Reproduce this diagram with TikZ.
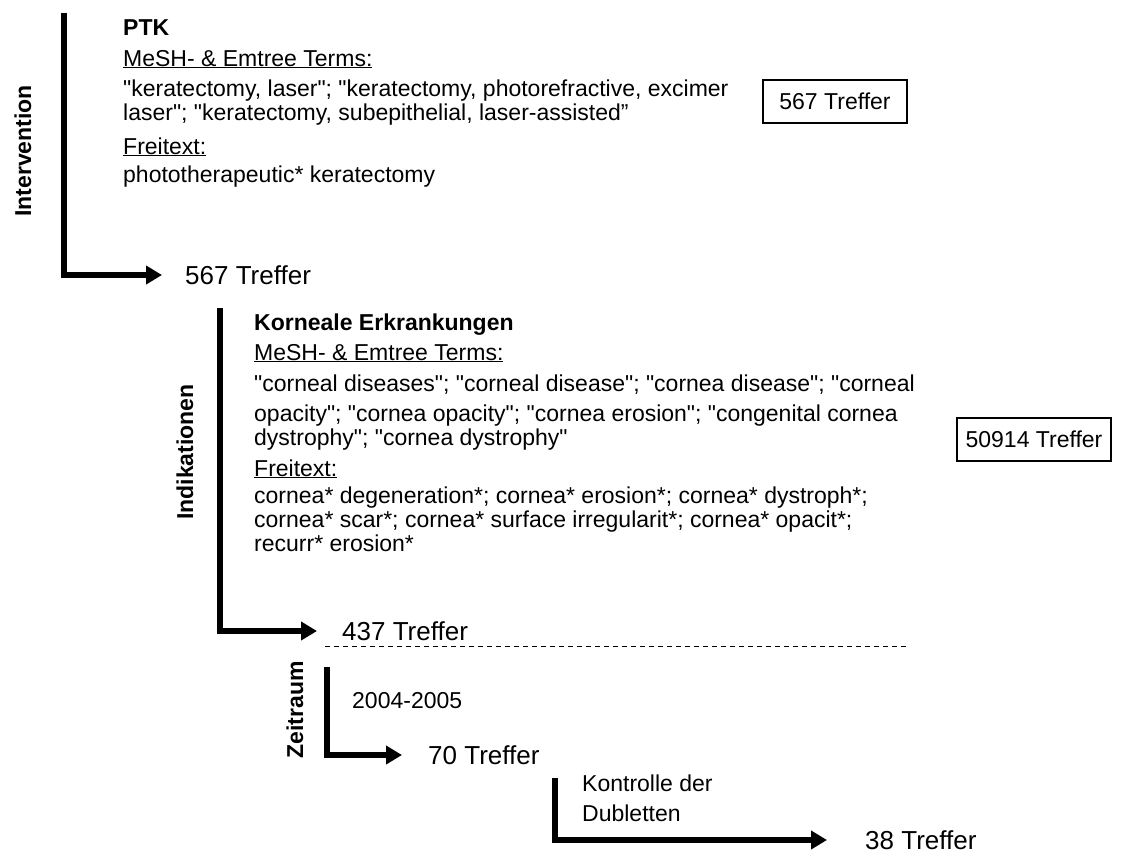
\documentclass[tikz,border=0pt]{standalone}
\usepackage{fontspec}
\setmainfont{Liberation Sans}[Ligatures=TeXOff]
\usetikzlibrary{arrows.meta}
\begin{document}
\begin{tikzpicture}[x=1pt,y=-1pt,
  txt/.style={anchor=base west, inner sep=0, font=\fontsize{23}{27}\selectfont},
  head/.style={txt, font=\bfseries\fontsize{23}{27}\selectfont},
  res/.style={anchor=west, inner sep=0, font=\fontsize{26}{30}\selectfont},
  vlab/.style={rotate=90, inner sep=0, font=\bfseries\fontsize{23}{27}\selectfont},
  hitbox/.style={draw, line width=1.2pt, inner sep=0, minimum height=43pt, font=\fontsize{23}{27}\selectfont},
  flow/.style={line width=6pt, line join=miter, -{Triangle[length=16pt,width=18pt]}},
  sep/.style={line width=1pt, dash pattern=on 5pt off 4pt}]
\useasboundingbox (0,0) rectangle (1125,855);

% Intervention
\node[vlab] (lint) at (23,151) {Intervention};
\node[head] (ptk) at (123,35) {PTK};
\node[txt] (m1) at (123,66) {\underline{MeSH- \& Emtree Terms:}};
\node[txt] (k1) at (123,96) {"keratectomy, laser"; "keratectomy, photorefractive, excimer};
\node[txt] (k2) at (123,120) {laser"; "keratectomy, subepithelial, laser-assisted”};
\node[txt] (f1) at (123,154) {\underline{Freitext:}};
\node[txt] (p1) at (123,182) {phototherapeutic* keratectomy};
\node[hitbox, minimum width=144pt] (b1) at (835,101.5) {567 Treffer};
\coordinate (itop) at (64,13);
\node[res] (r567) at (185,275) {567 Treffer};
\draw[flow] (itop) |- ([xshift=-23pt]r567.west);

% Indikationen
\node[vlab] (lind) at (185,452) {Indikationen};
\node[head] (ke) at (254,330) {Korneale Erkrankungen};
\node[txt] (m2) at (254,360) {\underline{MeSH- \& Emtree Terms:}};
\node[txt] (c1) at (254,391) {"corneal diseases"; "corneal disease"; "cornea disease"; "corneal};
\node[txt] (c2) at (254,421) {opacity"; "cornea opacity"; "cornea erosion"; "congenital cornea};
\node[txt] (c3) at (254,445) {dystrophy"; "cornea dystrophy"};
\node[txt] (f2) at (254,476) {\underline{Freitext:}};
\node[txt] (d1) at (254,503) {cornea* degeneration*; cornea* erosion*; cornea* dystroph*;};
\node[txt] (d2) at (254,527) {cornea* scar*; cornea* surface irregularit*; cornea* opacit*;};
\node[txt] (d3) at (254,551) {recurr* erosion*};
\node[hitbox, minimum width=154pt] (b2) at (1034,439.5) {50914 Treffer};
\coordinate (ktop) at (220,308);
\node[res] (r437) at (342,631) {437 Treffer};
\draw[flow] (ktop) |- ([xshift=-25pt]r437.west);

% dashed separator
\coordinate (ds) at (325,646);
\coordinate (de) at (908,646);
\draw[sep] (ds) -- (de);

% Zeitraum
\node[vlab] (lzeit) at (295,710) {Zeitraum};
\node[txt] (yr) at (352,708) {2004-2005};
\coordinate (ztop) at (327,667);
\node[res] (r70) at (428,755) {70 Treffer};
\draw[flow] (ztop) |- ([xshift=-26pt]r70.west);

% Dubletten
\node[txt] (kd1) at (582,791) {Kontrolle der};
\node[txt] (kd2) at (582,821) {Dubletten};
\coordinate (dtop) at (555,778);
\node[res] (r38) at (865,840) {38 Treffer};
\draw[flow] (dtop) |- ([xshift=-38pt]r38.west);
\end{tikzpicture}
\end{document}
